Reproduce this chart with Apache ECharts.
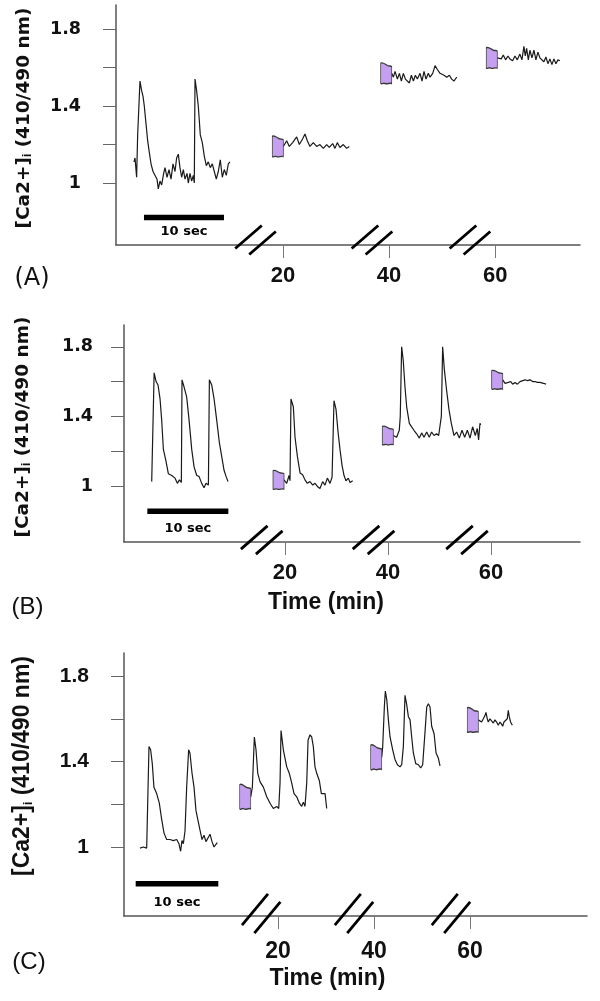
<!DOCTYPE html>
<html><head><meta charset="utf-8">
<script src="https://cdn.jsdelivr.net/npm/echarts@6/dist/echarts.min.js"></script>
<style>html,body{margin:0;padding:0;background:#fff}#c{width:600px;height:1001px}</style>
</head><body><div id="c"></div>
<script>
// ---------- DATA ----------
// Each trace: [seconds since segment start, fluorescence ratio 410/490]
const yTickValues = [1, 1.2, 1.4, 1.6, 1.8];
const yLabelValues = [1, 1.4, 1.8];
const xTickLabels = [20, 40, 60];
const panelLabels = ['(A)', '(B)', '(C)'];
const yAxisTitle = '[Ca2+]{sub|i} (410/490 nm)';
const xAxisTitle = 'Time (min)';
const scaleBarText = '10 sec';
const scaleBarSeconds = 10;

const traceA1 = [[0,1.11],[0.13,1.13],[0.33,1.03],[0.46,1.25],[0.75,1.53],[0.96,1.48],[1.13,1.45],[1.29,1.40],[1.5,1.31],[1.71,1.22],[1.88,1.17],[2.13,1.10],[2.38,1.06],[2.63,1.07],[2.88,1.02],[3.04,0.97],[3.25,1.01],[3.46,0.99],[3.71,1.05],[3.88,1.08],[4.13,1.03],[4.38,1.07],[4.63,1.02],[4.88,1.10],[5.13,1.06],[5.33,1.13],[5.54,1.15],[5.75,1.08],[5.96,1.03],[6.17,1.07],[6.38,1.02],[6.63,1.05],[6.79,1.00],[7.0,1.05],[7.21,1.01],[7.42,1.04],[7.54,1.00],[7.63,1.54],[7.83,1.48],[8.04,1.40],[8.29,1.25],[8.54,1.21],[8.79,1.14],[9.04,1.09],[9.29,1.11],[9.54,1.08],[9.79,1.10],[10.04,1.06],[10.29,1.02],[10.54,1.06],[10.79,1.12],[11.04,1.03],[11.29,1.07],[11.54,1.04],[11.79,1.10],[12.0,1.11]];
const traceA2 = [[0,1.19],[0.42,1.22],[0.75,1.19],[1.17,1.21],[1.67,1.24],[2.0,1.20],[2.42,1.23],[2.71,1.255],[3.0,1.22],[3.33,1.19],[3.75,1.21],[4.17,1.19],[4.58,1.20],[5.0,1.18],[5.42,1.20],[5.75,1.185],[6.17,1.205],[6.46,1.18],[6.75,1.21],[7.08,1.185],[7.5,1.20],[7.92,1.18],[8.25,1.19]];
const traceA3 = [[0,1.57],[0.21,1.55],[0.42,1.58],[0.71,1.54],[0.96,1.57],[1.21,1.53],[1.46,1.57],[1.71,1.54],[1.96,1.55],[2.21,1.52],[2.46,1.56],[2.71,1.53],[2.96,1.56],[3.21,1.54],[3.54,1.57],[3.79,1.53],[4.04,1.58],[4.29,1.54],[4.58,1.57],[4.79,1.55],[5.13,1.57],[5.42,1.61],[5.71,1.59],[6.04,1.57],[6.25,1.58],[6.54,1.56],[6.88,1.55],[7.21,1.56],[7.5,1.54],[7.79,1.53],[8.13,1.55]];
const traceA4 = [[0,1.65],[0.25,1.66],[0.5,1.645],[0.75,1.665],[1.04,1.64],[1.33,1.66],[1.58,1.645],[1.92,1.635],[2.21,1.66],[2.5,1.64],[2.83,1.67],[3.08,1.64],[3.33,1.71],[3.5,1.66],[3.67,1.70],[3.88,1.64],[4.08,1.69],[4.33,1.65],[4.58,1.69],[4.83,1.64],[5.08,1.68],[5.33,1.65],[5.58,1.66],[5.83,1.63],[6.08,1.655],[6.33,1.62],[6.58,1.645],[6.83,1.615],[7.08,1.645],[7.33,1.62],[7.58,1.64],[7.83,1.635]];

const traceB1 = [[0,1.025],[0.3,1.65],[0.54,1.60],[0.78,1.58],[1.03,1.50],[1.23,1.38],[1.44,1.21],[1.73,1.15],[2.06,1.07],[2.47,1.06],[2.88,1.045],[3.17,1.015],[3.42,1.035],[3.66,1.02],[3.74,1.61],[3.99,1.57],[4.32,1.51],[4.61,1.38],[4.94,1.21],[5.23,1.11],[5.56,1.06],[5.84,1.055],[6.17,1.015],[6.46,0.99],[6.71,1.015],[7.0,1.005],[7.12,1.61],[7.41,1.58],[7.70,1.50],[8.02,1.38],[8.35,1.25],[8.64,1.17],[8.93,1.09],[9.18,1.055],[9.42,1.025]];
const traceB2 = [[0,1.035],[0.33,1.015],[0.62,1.06],[0.74,1.03],[0.86,1.50],[1.15,1.455],[1.36,1.28],[1.65,1.17],[1.98,1.075],[2.30,1.065],[2.59,1.035],[2.88,1.015],[3.21,1.025],[3.54,1.005],[3.83,1.015],[4.16,0.995],[4.44,0.985],[4.77,1.025],[5.06,1.005],[5.35,1.045],[5.68,1.015],[5.93,1.05],[6.01,1.04],[6.17,1.49],[6.42,1.44],[6.67,1.31],[6.91,1.21],[7.16,1.12],[7.41,1.06],[7.65,1.03],[7.94,1.045],[8.15,1.02],[8.48,1.03]];
const traceB3 = [[0,1.29],[0.41,1.28],[0.74,1.32],[0.86,1.40],[1.03,1.80],[1.23,1.72],[1.44,1.57],[1.65,1.455],[1.98,1.36],[2.26,1.34],[2.55,1.32],[2.88,1.30],[3.21,1.275],[3.50,1.305],[3.79,1.28],[4.12,1.31],[4.44,1.28],[4.73,1.31],[5.02,1.29],[5.35,1.30],[5.60,1.29],[5.84,1.29],[5.93,1.40],[6.09,1.80],[6.30,1.67],[6.58,1.55],[6.87,1.44],[7.16,1.36],[7.49,1.29],[7.82,1.31],[8.15,1.275],[8.48,1.32],[8.81,1.28],[9.14,1.32],[9.47,1.275],[9.79,1.34],[10.12,1.29],[10.37,1.33],[10.53,1.265],[10.70,1.36],[10.78,1.35]];
const traceB4 = [[0,1.61],[0.29,1.59],[0.49,1.60],[0.70,1.595],[0.99,1.60],[1.23,1.585],[1.52,1.595],[1.81,1.585],[2.14,1.60],[2.47,1.605],[2.63,1.615],[2.80,1.61],[3.05,1.605],[3.37,1.61],[3.70,1.60],[3.99,1.60],[4.28,1.595],[4.61,1.595],[5.02,1.59],[5.35,1.585]];

const traceC1 = [[0,0.995],[0.40,1.00],[0.81,0.995],[1.01,1.00],[1.09,1.47],[1.29,1.455],[1.49,1.39],[1.69,1.28],[2.02,1.25],[2.34,1.205],[2.62,1.13],[2.91,1.065],[3.23,1.035],[3.63,1.035],[4.04,1.03],[4.44,1.035],[4.72,1.015],[4.92,0.98],[5.08,1.03],[5.25,1.015],[5.45,1.075],[5.65,1.28],[5.89,1.455],[6.05,1.44],[6.30,1.345],[6.54,1.28],[6.78,1.17],[7.02,1.125],[7.26,1.08],[7.51,1.035],[7.75,1.055],[7.99,1.025],[8.23,1.03],[8.48,1.06],[8.72,1.025],[8.96,1.00],[9.20,0.995],[9.36,1.02]];
const traceC2 = [[0,1.235],[0.20,1.28],[0.44,1.515],[0.64,1.455],[0.85,1.345],[1.13,1.305],[1.53,1.28],[1.94,1.235],[2.34,1.205],[2.74,1.18],[3.15,1.19],[3.39,1.18],[3.55,1.30],[3.67,1.545],[3.95,1.455],[4.36,1.375],[4.67,1.345],[4.96,1.30],[5.24,1.25],[5.57,1.235],[5.89,1.205],[6.17,1.19],[6.37,1.21],[6.57,1.19],[6.78,1.30],[6.94,1.50],[7.18,1.525],[7.38,1.515],[7.58,1.47],[7.78,1.375],[7.99,1.345],[8.31,1.31],[8.55,1.25],[8.79,1.245],[9.0,1.25],[9.20,1.18]];
const traceC3 = [[0,1.42],[0.12,1.47],[0.32,1.655],[0.44,1.73],[0.61,1.69],[0.81,1.595],[1.01,1.515],[1.33,1.455],[1.61,1.41],[1.90,1.385],[2.22,1.375],[2.42,1.385],[2.62,1.47],[2.82,1.71],[3.03,1.665],[3.23,1.61],[3.43,1.595],[3.63,1.515],[3.83,1.44],[4.12,1.39],[4.44,1.385],[4.72,1.37],[4.96,1.385],[5.21,1.52],[5.45,1.655],[5.65,1.67],[5.85,1.655],[6.05,1.565],[6.34,1.53],[6.58,1.44],[6.86,1.415],[7.06,1.38]];
const traceC4 = [[0,1.595],[0.20,1.59],[0.40,1.585],[0.61,1.60],[0.81,1.615],[0.93,1.63],[1.09,1.60],[1.21,1.585],[1.41,1.60],[1.61,1.59],[1.82,1.58],[2.02,1.595],[2.22,1.585],[2.42,1.57],[2.62,1.585],[2.82,1.575],[2.95,1.565],[3.11,1.585],[3.31,1.59],[3.51,1.60],[3.63,1.64],[3.75,1.61],[3.91,1.585],[4.12,1.57]];

// where each recorded segment begins on the time axis (min)
const segmentStartA = [-8.11, 20.05, 40.49, 60.4];
const segmentStartB = [-5.88, 19.81, 41.03, 62.27];
const segmentStartC = [-8.75, 14.32, 41.61, 61.73];
// axis-break positions (min)
const breakA = [14.81, 36.77, 55.25];
const breakB = [15.48, 37.19, 55.34];
const breakC = [16.5, 35.84, 56.04];
// 10-s scale bar: start (s, relative to first segment) and ratio level
const scaleBarA = [1.25, 0.821];
const scaleBarB = [-0.54, 0.855];
const scaleBarC = [-0.52, 0.828];

// ---------- LAYOUT / STYLE ----------
const panels = [
  { grid:{left:116, top:5, width:464, height:240}, x:[-11.5,76], y:[0.678,1.925], secScale:1.5086,
    starts:segmentStartA, traces:[traceA1,traceA2,traceA3,traceA4], breaks:breakA, bar:scaleBarA, barDist:8,
    markerSize:[11,21], yFont:{fontFamily:'DejaVu Sans', fontSize:17.5}, yMargin:35, xFont:{fontFamily:'Liberation Sans', fontSize:22}, xMargin:20,
    tickLen:13, brk:{ox:7, oy:3, hx:13.3, hy:11.5, dy:-5} },
  { grid:{left:124, top:325, width:456, height:217}, x:[-11.26,77.28], y:[0.678,1.925], secScale:1.5728,
    starts:segmentStartB, traces:[traceB1,traceB2,traceB3,traceB4], breaks:breakB, bar:scaleBarB, barDist:11,
    markerSize:[11,19], yFont:{fontFamily:'DejaVu Sans', fontSize:17.5}, yMargin:31, xFont:{fontFamily:'Liberation Sans', fontSize:22}, xMargin:20,
    tickLen:13, brk:{ox:7.5, oy:2.5, hx:13.3, hy:11.6, dy:-2} },
  { grid:{left:124, top:653, width:463, height:263}, x:[-12.08,84.38], y:[0.677,1.908], secScale:1.721,
    starts:segmentStartC, traces:[traceC1,traceC2,traceC3,traceC4], breaks:breakC, bar:scaleBarC, barDist:12,
    markerSize:[11,25], yFont:{fontFamily:'Liberation Sans', fontSize:21}, yMargin:35, xFont:{fontFamily:'Liberation Sans', fontSize:23}, xMargin:24,
    tickLen:13, brk:{ox:6.2, oy:4, hx:13, hy:15.6, dy:-2.5} }
];

const markerPath = 'path://M0,1 C2,0 4,2 6,3 C8,4 9,3 10,4 L10,19 C8,18 6,20 4,19 C2,18 1,20 0,19 Z';
const axisColor = '#555';
const inkColor = '#111';

const grids = [], xAxes = [], yAxes = [], series = [];
panels.forEach((P, i) => {
  grids.push(Object.assign({containLabel:false, outerBoundsMode:'none'}, P.grid));
  xAxes.push({
    type:'value', gridIndex:i, min:P.x[0], max:P.x[1],
    axisLine:{show:true, onZero:false, lineStyle:{color:axisColor, width:1.5}},
    axisTick:{show:true, customValues:xTickLabels, length:P.tickLen, lineStyle:{color:'#777', width:1}},
    axisLabel:{show:true, customValues:xTickLabels, margin:P.xMargin, color:inkColor, fontWeight:'bold',
      fontFamily:P.xFont.fontFamily, fontSize:P.xFont.fontSize, formatter:v=>String(v)},
    splitLine:{show:false}
  });
  yAxes.push({
    type:'value', gridIndex:i, min:P.y[0], max:P.y[1],
    axisLine:{show:true, onZero:false, lineStyle:{color:axisColor, width:1.5}},
    axisTick:{show:true, customValues:yTickValues, length:P.tickLen, lineStyle:{color:'#666', width:1}},
    axisLabel:{show:true, customValues:yLabelValues, margin:P.yMargin, color:inkColor, fontWeight:'bold',
      fontFamily:P.yFont.fontFamily, fontSize:P.yFont.fontSize, formatter:v=>String(v)},
    splitLine:{show:false}
  });
  // traces
  P.traces.forEach((tr, j) => {
    series.push({
      type:'line', xAxisIndex:i, yAxisIndex:i, showSymbol:false, symbol:'none', silent:true,
      lineStyle:{color:'#1a1a1a', width:1.2}, z:3,
      data: tr.map(([s, v]) => [P.starts[j] + s * P.secScale, v])
    });
  });
  // purple stimulus markers before segments 2..4
  series.push({
    type:'scatter', xAxisIndex:i, yAxisIndex:i, silent:true, z:4,
    symbol:markerPath, symbolSize:P.markerSize, symbolKeepAspect:false,
    symbolOffset:[-P.markerSize[0]/2, 0],
    itemStyle:{color:'#c6a0f0', borderColor:'#3a3a3a', borderWidth:1, opacity:1},
    data: P.traces.slice(1).map((tr, j) => [P.starts[j+1], tr[0][1]])
  });
  // scale bar
  const b0 = P.starts[0] + P.bar[0] * P.secScale;
  const b1 = P.starts[0] + (P.bar[0] + scaleBarSeconds) * P.secScale;
  series.push({
    type:'line', xAxisIndex:i, yAxisIndex:i, showSymbol:false, symbol:'none', silent:true,
    lineStyle:{color:'#000', width:5.5, cap:'butt'}, data:[[b0, P.bar[1]], [b1, P.bar[1]]]
  });
  series.push({
    type:'scatter', xAxisIndex:i, yAxisIndex:i, silent:true, symbolSize:0, itemStyle:{opacity:1},
    label:{show:true, position:'bottom', distance:P.barDist, formatter:scaleBarText, color:'#000', opacity:1,
      fontFamily:'DejaVu Sans', fontWeight:'bold', fontSize:13},
    data:[[(b0 + b1) / 2, P.bar[1]]]
  });
  // axis breaks
  series.push({
    type:'custom', xAxisIndex:i, yAxisIndex:i, silent:true, clip:false, z:5,
    encode:{x:0, y:1},
    data: P.breaks.map(b => [b, P.y[0]]),
    renderItem: (params, api) => {
      const p = api.coord([api.value(0), api.value(1)]);
      const cx = p[0], cy = p[1] + P.brk.dy, k = P.brk;
      return { type:'group', children: [-1, 1].map(s => ({
        type:'line',
        shape:{ x1: cx + s*k.ox - k.hx, y1: cy + s*k.oy + k.hy, x2: cx + s*k.ox + k.hx, y2: cy + s*k.oy - k.hy },
        style:{ stroke:'#000', lineWidth:2.8 }
      })) };
    }
  });
});

const yNameRich = { sub:{ fontSize:12, fontWeight:'bold', verticalAlign:'bottom', padding:[6,0,0,0] } };
function vText(x, y, font, fam) {
  return { type:'text', x, y, rotation:Math.PI/2,
    style:{ text:yAxisTitle, fill:inkColor, fontFamily:fam, fontSize:font, fontWeight:'bold',
      align:'center', verticalAlign:'middle', textAlign:'center', textVerticalAlign:'middle', rich:yNameRich } };
}
function hText(txt, x, y, fam, size, weight) {
  return { type:'text', x, y, style:{ text:txt, fill:inkColor, fontFamily:fam, fontSize:size, fontWeight:weight,
    align:'center', verticalAlign:'middle', textAlign:'center', textVerticalAlign:'middle' } };
}
const graphic = [
  vText(24, 118, 18.5, 'DejaVu Sans'),
  vText(23, 427, 18.5, 'DejaVu Sans'),
  vText(23, 766, 23, 'Liberation Sans'),
  hText(panelLabels[0], 32, 279, 'DejaVu Sans', 24, 'normal'),
  hText(panelLabels[1], 27.5, 607.5, 'Liberation Sans', 24, 'normal'),
  hText(panelLabels[2], 29, 962.5, 'Liberation Sans', 24, 'normal'),
  hText(xAxisTitle, 326, 603, 'Liberation Sans', 23, 'bold'),
  hText(xAxisTitle, 327.5, 979, 'Liberation Sans', 23, 'bold')
];

const chart = echarts.init(document.getElementById('c'), null, {renderer:'canvas'});
chart.setOption({
  animation:false, backgroundColor:'#fff',
  grid:grids, xAxis:xAxes, yAxis:yAxes, series, graphic,
  tooltip:{show:false}, legend:{show:false}
});
</script></body></html>
